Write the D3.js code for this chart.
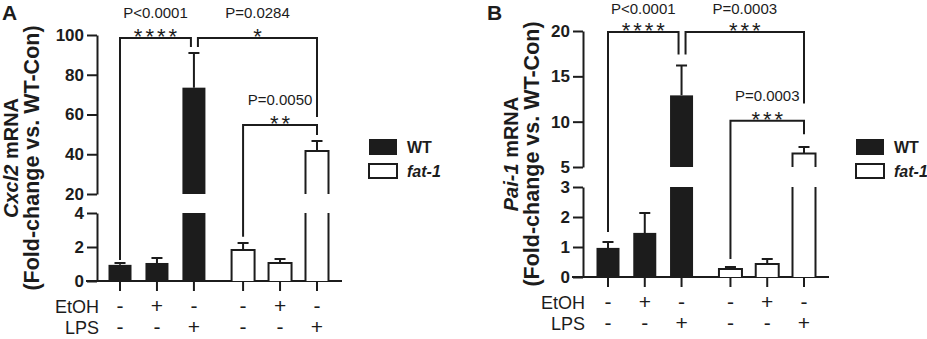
<!DOCTYPE html>
<html lang="en">
<head>
<meta charset="UTF-8">
<title>Cxcl2 / Pai-1 mRNA</title>
<script src="https://cdn.jsdelivr.net/npm/d3@7"></script>
<style>
  body { margin: 0; background: #fff; }
  svg text { font-family: "Liberation Sans", Arial, sans-serif; fill: #1c1c1c; }
  .axis path, .axis line { stroke: #1c1c1c; stroke-width: 2; fill: none; }
  .axis text { font-size: 17px; font-weight: bold; }
</style>
</head>
<body>
<script>
// groups and treatments
var groups = ["WT", "WT", "WT", "fat-1", "fat-1", "fat-1"];
var etoh = ["-", "+", "-", "-", "+", "-"];
var lps = ["-", "-", "+", "-", "-", "+"];

// panel A - Cxcl2
var cxcl2Mean = [0.95, 1.06, 73.5, 1.82, 1.06, 41.6];
var cxcl2Err = [0.11, 0.29, 17.5, 0.42, 0.23, 5.1];
var cxcl2TicksLow = [0, 2, 4];
var cxcl2TicksHigh = [20, 40, 60, 80, 100];
var cxcl2Brackets = [
  {from: 0, to: 2, y: 98.5, l: 1.24, r: 94, stars: "****", p: "P<0.0001"},
  {from: 2, to: 5, y: 98.5, l: 94, r: 58.7, stars: "*", p: "P=0.0284"},
  {from: 3, to: 5, y: 54.7, l: 2.6, r: 49.7, stars: "**", p: "P=0.0050"}
];

// panel B - Pai-1
var pai1Mean = [0.97, 1.47, 12.9, 0.27, 0.43, 6.5];
var pai1Err = [0.2, 0.66, 3.3, 0.06, 0.17, 0.7];
var pai1TicksLow = [0, 1, 2, 3];
var pai1TicksHigh = [5, 10, 15, 20];
var pai1Brackets = [
  {from: 0, to: 2, y: 19.9, l: 1.5, r: 17.4, stars: "****", p: "P<0.0001"},
  {from: 2, to: 5, y: 19.9, l: 17.4, r: 12.0, stars: "***", p: "P=0.0003"},
  {from: 3, to: 5, y: 10.1, l: 0.6, r: 8.6, stars: "***", p: "P=0.0003"}
];

var INK = "#1c1c1c";
var width = 927, height = 339;

var svg = d3.select("body").append("svg")
  .attr("width", width)
  .attr("height", height);

var panels = [
  {label: "A", labelX: 2, gene: "Cxcl2", mean: cxcl2Mean, err: cxcl2Err,
   low: [0, 4], high: [20, 100], ticksLow: cxcl2TicksLow, ticksHigh: cxcl2TicksHigh,
   brackets: cxcl2Brackets, axisX: 97, baseY: 281, lowTop: 213, highBottom: 194, highTop: 35,
   x0: 120, x1: 317, title1X: 18, title2X: 39, legendX: 368},
  {label: "B", labelX: 487, gene: "Pai-1", mean: pai1Mean, err: pai1Err,
   low: [0, 3], high: [5, 20], ticksLow: pai1TicksLow, ticksHigh: pai1TicksHigh,
   brackets: pai1Brackets, axisX: 583, baseY: 277, lowTop: 187, highBottom: 167, highTop: 31,
   x0: 608, x1: 804, title1X: 518, title2X: 539, legendX: 855}
];

panels.forEach(drawPanel);

function drawPanel(c) {
  var g = svg.append("g");

  // slot positions: 3 bars, small gap, 3 bars
  var slots = [0, 1, 2, 3.33, 4.33, 5.33];
  var x = d3.scaleLinear().domain([0, 5.33]).range([c.x0, c.x1]);
  var xi = function(i) { return x(slots[i]); };
  var bw = 23;

  var yLow = d3.scaleLinear().domain(c.low).range([c.baseY, c.lowTop]);
  var yHigh = d3.scaleLinear().domain(c.high).range([c.highBottom, c.highTop]);
  var yv = function(v) { return v <= c.low[1] ? yLow(v) : yHigh(v); };

  // y axis, two segments
  g.append("g").attr("class", "axis")
    .attr("transform", "translate(" + c.axisX + ",0)")
    .call(d3.axisLeft(yHigh).tickValues(c.ticksHigh).tickFormat(d3.format("d"))
      .tickSize(10).tickSizeOuter(0).tickPadding(3));
  g.append("g").attr("class", "axis")
    .attr("transform", "translate(" + c.axisX + ",0)")
    .call(d3.axisLeft(yLow).tickValues(c.ticksLow).tickFormat(d3.format("d"))
      .tickSize(10).tickSizeOuter(0).tickPadding(3));

  // x baseline and ticks
  g.append("line")
    .attr("x1", c.axisX - 11).attr("x2", xi(5) + 25)
    .attr("y1", c.baseY).attr("y2", c.baseY)
    .attr("stroke", INK).attr("stroke-width", 2);
  g.selectAll(".xtick").data(groups).enter().append("line")
    .attr("x1", function(d, i) { return xi(i); })
    .attr("x2", function(d, i) { return xi(i); })
    .attr("y1", c.baseY).attr("y2", c.baseY + 10)
    .attr("stroke", INK).attr("stroke-width", 2);

  // bars
  groups.forEach(function(grp, i) {
    var v = c.mean[i];
    var cx = xi(i), l = cx - bw / 2, r = cx + bw / 2;
    var segs = [];
    segs.push({bottom: c.baseY, top: yLow(Math.min(v, c.low[1])), closed: v <= c.low[1]});
    if (v > c.low[1]) segs.push({bottom: c.highBottom, top: yHigh(v), closed: true});
    segs.forEach(function(s) {
      if (grp === "WT") {
        g.append("rect").attr("x", l).attr("y", s.top)
          .attr("width", bw).attr("height", s.bottom - s.top)
          .attr("fill", INK);
      } else {
        g.append("rect").attr("x", l).attr("y", s.top)
          .attr("width", bw).attr("height", s.bottom - s.top)
          .attr("fill", "#fff");
        var p = s.closed
          ? "M" + l + "," + s.bottom + "V" + s.top + "H" + r + "V" + s.bottom
          : "M" + l + "," + s.bottom + "V" + s.top + "M" + r + "," + s.bottom + "V" + s.top;
        g.append("path").attr("d", p).attr("fill", "none")
          .attr("stroke", INK).attr("stroke-width", 2);
      }
    });
    // error bar (upper only)
    var et = yv(v + c.err[i]);
    g.append("path")
      .attr("d", "M" + cx + "," + yv(v) + "V" + et + "M" + (cx - 5.5) + "," + et + "H" + (cx + 5.5))
      .attr("fill", "none").attr("stroke", INK).attr("stroke-width", 2);
  });

  // treatment signs
  var rows = [{name: "EtOH", vals: etoh, dy: 32}, {name: "LPS", vals: lps, dy: 53}];
  rows.forEach(function(row) {
    g.append("text").attr("x", c.axisX + 2).attr("y", c.baseY + row.dy)
      .attr("text-anchor", "end").style("font-size", "18px").text(row.name);
    g.selectAll(null).data(row.vals).enter().append("text")
      .attr("x", function(d, i) { return xi(i); })
      .attr("y", c.baseY + row.dy)
      .attr("text-anchor", "middle").style("font-size", "21px")
      .text(function(d) { return d; });
  });

  // significance brackets
  c.brackets.forEach(function(b) {
    var shared = c.brackets.some(function(o) { return o !== b && o.from === b.to; });
    var sharedFrom = c.brackets.some(function(o) { return o !== b && o.to === b.from; });
    var xa = xi(b.from) + (sharedFrom ? 4 : 0);
    var xb = xi(b.to) - (shared ? 3 : 0);
    var yh = yv(b.y);
    g.append("path")
      .attr("d", "M" + xa + "," + yv(b.l) + "V" + yh + "H" + xb + "V" + yv(b.r))
      .attr("fill", "none").attr("stroke", INK).attr("stroke-width", 2);
    var mid = (xa + xb) / 2;
    g.append("text").attr("x", mid + 1.5).attr("y", yh + 6)
      .attr("text-anchor", "middle").style("font-size", "22px")
      .style("letter-spacing", "3px").text(b.stars);
    g.append("text").attr("x", mid).attr("y", Math.max(yh - 20, 14))
      .attr("text-anchor", "middle").style("font-size", "15px").text(b.p);
  });

  // y title
  var cy = (c.highTop + c.baseY) / 2;
  var t1 = g.append("text")
    .attr("transform", "translate(" + c.title1X + "," + cy + ") rotate(-90)")
    .attr("text-anchor", "middle").style("font-size", "20px").style("font-weight", "bold");
  t1.append("tspan").style("font-style", "italic").text(c.gene);
  t1.append("tspan").text(" mRNA");
  g.append("text")
    .attr("transform", "translate(" + c.title2X + "," + cy + ") rotate(-90)")
    .attr("text-anchor", "middle").style("font-size", "21.5px").style("font-weight", "bold")
    .text("(Fold-change vs. WT-Con)");

  // panel letter
  g.append("text").attr("x", c.labelX).attr("y", 20)
    .style("font-size", "21px").style("font-weight", "bold").text(c.label);

  // legend
  var leg = g.append("g").attr("transform", "translate(" + c.legendX + ",138)");
  leg.append("rect").attr("x", 1).attr("y", 1).attr("width", 28).attr("height", 16).attr("fill", INK);
  leg.append("rect").attr("x", 1).attr("y", 26).attr("width", 28).attr("height", 14)
    .attr("fill", "#fff").attr("stroke", INK).attr("stroke-width", 2);
  leg.append("text").attr("x", 39).attr("y", 15)
    .style("font-size", "16px").style("font-weight", "bold").text("WT");
  leg.append("text").attr("x", 39).attr("y", 39)
    .style("font-size", "16px").style("font-weight", "bold").style("font-style", "italic").text("fat-1");
}
</script>
</body>
</html>
